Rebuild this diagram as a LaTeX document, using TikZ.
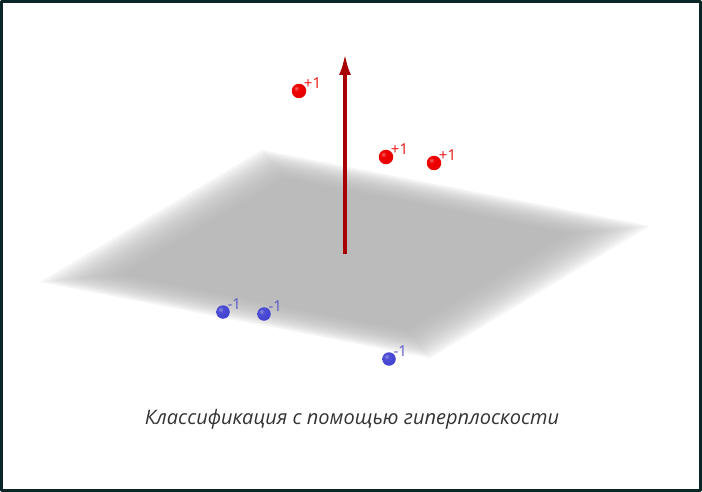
\documentclass[tikz,border=0pt]{standalone}
\usepackage{fontspec}
\setmainfont{Open Sans}
\usetikzlibrary{calc,arrows.meta}
\definecolor{rim}{HTML}{0B2626}
\definecolor{vecred}{HTML}{A80000}
\definecolor{plusred}{HTML}{E81010}
\definecolor{minusblue}{HTML}{5858CC}
\definecolor{captxt}{HTML}{333333}
\definecolor{ballred}{HTML}{EE0000}
\definecolor{ballblue}{HTML}{3A3AD0}
\pgfdeclareradialshading{redsph}{\pgfpoint{-10bp}{10bp}}{color(0bp)=(ballred!60!white); color(10bp)=(ballred); color(45bp)=(ballred!95!black); color(62bp)=(ballred!80!black); color(100bp)=(ballred!80!black)}
\pgfdeclareradialshading{bluesph}{\pgfpoint{-10bp}{10bp}}{color(0bp)=(ballblue!55!white); color(10bp)=(ballblue!90!white); color(45bp)=(ballblue); color(62bp)=(ballblue!85!black); color(100bp)=(ballblue!85!black)}
\tikzset{
  plus/.style={circle,inner sep=0pt,minimum size=14.5pt,shading=redsph},
  minus/.style={circle,inner sep=0pt,minimum size=13.5pt,shading=bluesph},
  lplus/.style={anchor=south west,inner sep=0pt,text=plusred,font=\fontsize{15}{16}\selectfont},
  lminus/.style={anchor=south west,inner sep=0pt,text=minusblue,font=\fontsize{15}{16}\selectfont},
  vec/.style={vecred,line width=3.5pt,line cap=butt,-{Latex[length=21pt,width=12pt]}}
}
\begin{document}
\begin{tikzpicture}[x=1pt,y=-1pt,line join=round,line cap=round]
\useasboundingbox (0,0) rectangle (702,492);
\draw[rim,line width=2.6pt] (1.3,1.3) rectangle (700.7,490.7);
% hyperplane with soft edges
\coordinate (L) at (40,282);
\coordinate (T) at (262,150);
\coordinate (R) at (650,226);
\coordinate (D) at (430,358);
\coordinate (O) at ($(L)!0.5!(R)$);
\foreach \k in {0,...,14}{\fill[black!31,fill opacity=0.12] ($(O)!{1-0.019*\k}!(L)$) -- ($(O)!{1-0.019*\k}!(T)$) -- ($(O)!{1-0.019*\k}!(R)$) -- ($(O)!{1-0.019*\k}!(D)$) -- cycle;}
% normal vector
\coordinate (tip) at (345,54);
\draw[vec] (O) -- (tip);
% classes
\foreach \n/\x/\y in {pa/299/91,pb/386/157,pc/434/163}{\node[plus] (\n) at (\x,\y) {}; \node[lplus] (\n-l) at ($(\n.north east)+(-0.5,2.5)$) {+1};}
\foreach \n/\x/\y in {ma/223/312,mb/264/314,mc/389/359}{\node[minus] (\n) at (\x,\y) {}; \node[lminus] (\n-l) at ($(\n.north east)+(-0.5,2.5)$) {-1};}
\node[text=captxt,font=\fontsize{20}{24}\selectfont\itshape] (cap) at (352,419) {Классификация с помощью гиперплоскости};
\end{tikzpicture}
\end{document}
